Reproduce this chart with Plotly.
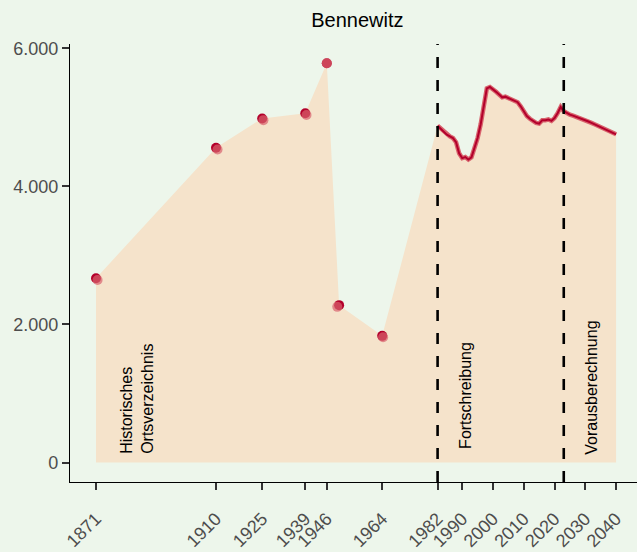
import plotly.graph_objects as go

# historische Ortsverzeichnis-Werte
hist_years = [1871, 1910, 1925, 1939, 1946, 1950, 1964]
hist_pop = [2670, 4560, 4985, 5060, 5783, 2280, 1835]
# zweite (hellere) Quelle, leicht abweichend
hist_years_alt = [1871.5, 1910.5, 1925.4, 1939.4, 1946, 1949.4, 1964.3]
hist_pop_alt = [2645, 4535, 4960, 5035, 5783, 2255, 1815]

# Fortschreibung 1982-2022 + Vorausberechnung 2023-2040
fort_years = list(range(1982, 2041))
fort_pop = [4880, 4840, 4790, 4750, 4725, 4700, 4640, 4480, 4410, 4425,
            4390, 4420, 4560, 4700, 4900, 5150, 5420, 5440, 5410, 5370,
            5330, 5290, 5300, 5280, 5260, 5230, 5220, 5160, 5090, 5020,
            4980, 4950, 4920, 4910, 4960, 4960, 4970, 4950, 4990, 5060,
            5150, 5090, 5060, 5040, 5025, 5010, 4990, 4975, 4960, 4940,
            4920, 4900, 4880, 4860, 4840, 4820, 4800, 4775, 4755]

breaks = [1982, 2023]
tick_years = [1871, 1910, 1925, 1939, 1946, 1964, 1982, 1990, 2000, 2010, 2020, 2030, 2040]
labels = [("Historisches<br>Ortsverzeichnis", 1884.5, 90),
          ("Fortschreibung", 1991.1, 170),
          ("Vorausberechnung", 2032.0, 90)]

BG = "#EDF6EB"
FILL = "#F5E3CB"
DARK = "#B3002B"
LIGHT = "#D8636D"
FONT = "Liberation Sans, Arial, sans-serif"

fig = go.Figure()

# Flaeche unter der gesamten Reihe
fig.add_trace(go.Scatter(
    x=hist_years + fort_years, y=hist_pop + fort_pop,
    mode="lines", line=dict(width=0), fill="tozeroy", fillcolor=FILL,
    hoverinfo="skip",
))
fig.add_trace(go.Scatter(
    x=fort_years, y=fort_pop, mode="lines",
    line=dict(color=LIGHT, width=4.5), hoverinfo="skip",
))
fig.add_trace(go.Scatter(
    x=fort_years, y=fort_pop, mode="lines",
    line=dict(color=DARK, width=2),
))
fig.add_trace(go.Scatter(
    x=hist_years, y=hist_pop, mode="markers",
    marker=dict(color=DARK, size=10),
))
fig.add_trace(go.Scatter(
    x=hist_years_alt, y=hist_pop_alt, mode="markers",
    marker=dict(color=LIGHT, size=10, opacity=0.7),
))

for b in breaks:
    fig.add_shape(type="line", x0=b, x1=b, y0=0, y1=1, yref="paper",
                  line=dict(color="black", width=2.6, dash="11px,12px"))

for txt, xv, yv in labels:
    fig.add_annotation(x=xv, y=yv, text=txt, textangle=-90, showarrow=False,
                       xanchor="center", yanchor="bottom", align="left",
                       font=dict(size=16, color="black", family=FONT))

fig.update_layout(
    width=637, height=552,
    margin=dict(l=70, r=0, t=44, b=70),
    paper_bgcolor=BG, plot_bgcolor=BG,
    showlegend=False,
    separators=",.",
    font=dict(family=FONT, size=18, color="#4D4D4D"),
    title=dict(text="Bennewitz", x=0.561, xanchor="center", y=1 - 20 / 552,
               yanchor="middle", yref="container",
               font=dict(size=20, color="black", family=FONT)),
)
fig.update_xaxes(
    range=[1862.55, 2046.8], tickvals=tick_years, ticktext=[str(t) for t in tick_years],
    tickangle=-45, showgrid=False, zeroline=False, automargin=False,
    showline=True, linecolor="black", linewidth=1.2, ticklabelstandoff=11,
    ticks="outside", ticklen=7, tickwidth=2, tickcolor="#333333",
)
fig.update_yaxes(
    range=[-282, 6063], tickvals=[0, 2000, 4000, 6000], tickformat=",d",
    showgrid=False, zeroline=False, automargin=False,
    showline=True, linecolor="black", linewidth=1.2,
    ticks="outside", ticklen=7, tickwidth=2, tickcolor="#333333",
)

fig.write_html("out.html", config={"displayModeBar": False},
               post_script="document.body.style.margin='0';")
